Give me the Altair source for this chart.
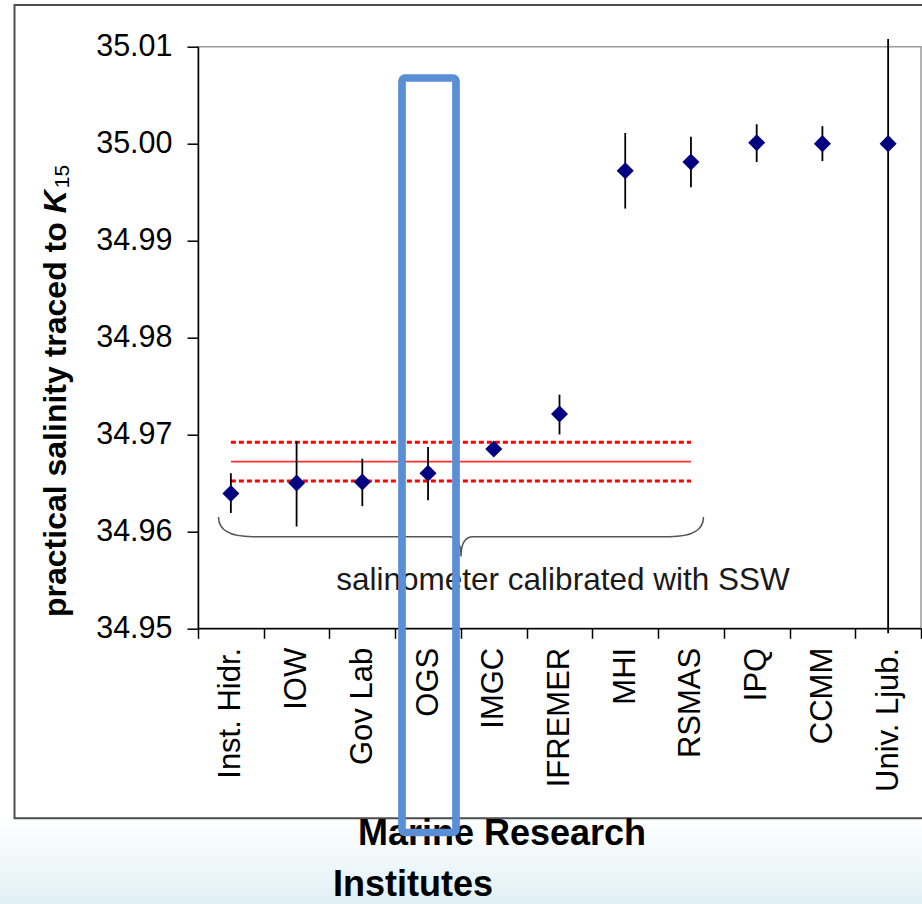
import altair as alt
import pandas as pd

# ---------------- data ----------------
institutes = ["Inst. Hidr.", "IOW", "Gov Lab", "OGS", "IMGC", "IFREMER",
              "MHI", "RSMAS", "IPQ", "CCMM", "Univ. Ljub."]
salinity = [34.9639, 34.9650, 34.9651, 34.9660, 34.9685, 34.9721,
            34.9972, 34.9981, 35.0001, 35.0000, 35.0000]
err_low = [34.9619, 34.9605, 34.9626, 34.9632, 34.9683, 34.9700,
           34.9933, 34.9955, 34.9981, 34.9982, 34.9495]
err_high = [34.9660, 34.9693, 34.9675, 34.9687, 34.9687, 34.9741,
            35.0011, 35.0007, 35.0020, 35.0018, 35.0108]

ssw_first, ssw_last = "Inst. Hidr.", "RSMAS"
ssw_mean = [34.9672]
ssw_band = [34.9652, 34.9692]
y_ticks = [34.95, 34.96, 34.97, 34.98, 34.99, 35.00, 35.01]

brace_label = "salinometer calibrated with SSW"
y_title_main = "practical salinity traced to"
y_title_sym = "K"
y_title_sub = "15"
x_title_1 = "Marine Research"
x_title_2 = "Institutes"

FONT = "Liberation Sans"
W, H = 723, 581.6

df = pd.DataFrame({"institute": institutes, "salinity": salinity,
                   "low": err_low, "high": err_high})
mean_df = pd.DataFrame({"a": [ssw_first], "b": [ssw_last], "v": ssw_mean})
band_df = pd.DataFrame({"a": [ssw_first] * 2, "b": [ssw_last] * 2, "v": ssw_band})
one = alt.Data(values=[{}])

xscale = alt.Scale(type="band", domain=institutes, paddingInner=0, paddingOuter=0)
yscale = alt.Scale(domain=[34.95, 35.01], nice=False, zero=False)

xaxis = alt.Axis(title=None, tickBand="extent", labelAngle=270, labelAlign="right",
                 labelBaseline="middle", labelFontSize=31, labelFont=FONT,
                 labelColor="black", labelPadding=9, tickSize=10, tickColor="black",
                 tickWidth=1.5, domainColor="black", domainWidth=1.5, grid=False,
                 labelOverlap=False)
yaxis = alt.Axis(title=None, values=y_ticks, format=".2f", labelFontSize=30.5,
                 labelFont=FONT, labelColor="black", labelPadding=15, tickSize=11,
                 tickColor="black", tickWidth=1.5, domainColor="black",
                 domainWidth=1.5, grid=False, labelOverlap=False)

# background gradient below the frame
grad = alt.Gradient(gradient="linear",
                    stops=[alt.GradientStop(color="#ffffff", offset=0),
                           alt.GradientStop(color="#e0f0f5", offset=1)],
                    x1=0, x2=0, y1=0, y2=1)
bg = alt.Chart(one).mark_rect(fill=grad).encode(
    x=alt.value(-198), x2=alt.value(724), y=alt.value(771.6), y2=alt.value(857.3))

frame = alt.Chart(one).mark_rect(fillOpacity=0, stroke="#4d4d4d", strokeWidth=2).encode(
    x=alt.value(-183.5), x2=alt.value(740), y=alt.value(-41.7), y2=alt.value(771.6))

band_lines = alt.Chart(band_df).mark_rule(color="#ff0000", strokeWidth=3,
                                          strokeDash=[5, 3]).encode(
    x=alt.X("a:N", scale=xscale, axis=xaxis),
    x2="b:N",
    y=alt.Y("v:Q", scale=yscale, axis=yaxis))
mean_line = alt.Chart(mean_df).mark_rule(color="#ff3030", strokeWidth=1.7).encode(
    x=alt.X("a:N", scale=xscale, axis=xaxis),
    x2="b:N",
    y=alt.Y("v:Q", scale=yscale, axis=yaxis))

errbars = alt.Chart(df).mark_rule(color="black", strokeWidth=1.8).encode(
    x=alt.X("institute:N", scale=xscale, axis=xaxis),
    y=alt.Y("low:Q", scale=yscale, axis=yaxis),
    y2="high:Q")

points = alt.Chart(df).mark_point(shape="diamond", filled=True, size=290,
                                  color="#000080", opacity=1).encode(
    x=alt.X("institute:N", scale=xscale, axis=xaxis),
    y=alt.Y("salinity:Q", scale=yscale, axis=yaxis))

BRACE = ("M -1 -0.081 Q -1 0 -0.86 0 L -0.05 0 Q 0 0 0 0.082 "
         "Q 0 0 0.05 0 L 0.86 0 Q 1 0 1 -0.081")
brace = alt.Chart(one).mark_point(shape=BRACE, filled=False, size=485 ** 2,
                                  color="#555555", strokeWidth=1.5, opacity=1).encode(
    x=alt.value(263), y=alt.datum(34.95945))

brace_text = alt.Chart(one).mark_text(text=brace_label, font=FONT, fontSize=31.5,
                                      color="#1a1a1a", align="center",
                                      baseline="alphabetic").encode(
    x=alt.value(365), y=alt.datum(34.95395))

t_main = alt.Chart(one).mark_text(text=y_title_main, font=FONT, fontSize=32,
                                  fontWeight="bold", angle=270, align="left",
                                  baseline="alphabetic", color="black").encode(
    x=alt.value(-132), y=alt.value(570.3))
t_sym = alt.Chart(one).mark_text(text=y_title_sym, font=FONT, fontSize=32,
                                 fontWeight="bold", fontStyle="italic", angle=270,
                                 align="left", baseline="alphabetic",
                                 color="black").encode(
    x=alt.value(-132), y=alt.value(166.6))
t_sub = alt.Chart(one).mark_text(text=y_title_sub, font=FONT, fontSize=21,
                                 angle=270, align="left", baseline="alphabetic",
                                 color="black").encode(
    x=alt.value(-129), y=alt.value(141.5))

xt1 = alt.Chart(one).mark_text(text=x_title_1, font=FONT, fontSize=36,
                               fontWeight="bold", align="center",
                               baseline="alphabetic", color="black").encode(
    x=alt.value(304), y=alt.value(798.3))
xt2 = alt.Chart(one).mark_text(text=x_title_2, font=FONT, fontSize=36,
                               fontWeight="bold", align="left",
                               baseline="alphabetic", color="black").encode(
    x=alt.value(135), y=alt.value(849.3))

box = alt.Chart(one).mark_rect(fillOpacity=0, stroke="#5B8FD5", strokeWidth=7.7,
                               cornerRadius=3).encode(
    x=alt.value(204), x2=alt.value(258), y=alt.value(31.3), y2=alt.value(785.8))

chart = alt.layer(
    bg, frame, band_lines, mean_line, errbars, points, brace, brace_text,
    t_main, t_sym, t_sub, xt1, xt2, box
).properties(
    width=W, height=H,
    padding={"left": 198, "top": 46.7, "right": 1, "bottom": 275.7},
    autosize=alt.AutoSizeParams(type="none"),
    background="white",
).configure_view(stroke="#9a9a9a", strokeWidth=1.5)

chart.save("out.html", embed_options={"renderer": "svg", "actions": False})
